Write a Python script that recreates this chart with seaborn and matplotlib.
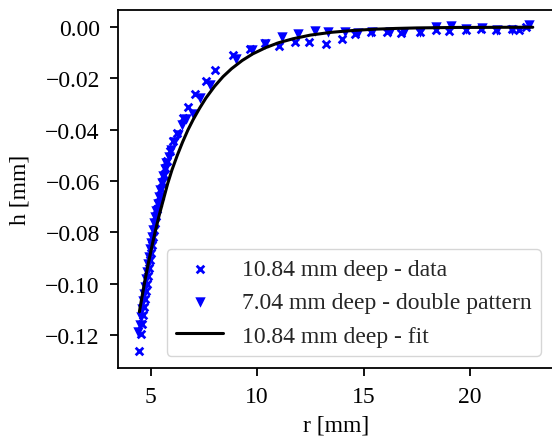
import matplotlib
matplotlib.use("Agg")
import matplotlib.pyplot as plt
import seaborn as sns

# 10.84 mm deep groove - measured profile
r_data = [4.45, 4.55, 4.59, 4.64, 4.69, 4.73, 4.78, 4.83, 4.87, 4.92, 4.97, 5.01, 5.06,
          5.11, 5.16, 5.20, 5.25, 5.30, 5.34, 5.44, 5.48, 5.53, 5.62, 5.67, 5.76, 5.90,
          6.05, 6.23, 6.50, 6.76, 7.08, 7.59, 8.02, 8.87, 9.66, 10.36, 11.01, 11.77,
          12.42, 13.22, 13.97, 14.62, 15.37, 16.08, 16.78, 17.63, 18.42, 19.03, 19.83,
          20.53, 21.24, 21.99, 22.30, 22.64]
h_data = [-0.1261, -0.1195, -0.1156, -0.1121, -0.1090, -0.1060, -0.1029, -0.1002, -0.0971,
          -0.0940, -0.0909, -0.0882, -0.0851, -0.0819, -0.0792, -0.0765, -0.0738, -0.0711,
          -0.0684, -0.0657, -0.0630, -0.0603, -0.0576, -0.0549, -0.0522, -0.0483, -0.0444,
          -0.0413, -0.0355, -0.0310, -0.0262, -0.0211, -0.0168, -0.0110, -0.0084, -0.0061,
          -0.0072, -0.0057, -0.0057, -0.0065, -0.0045, -0.0026, -0.0018, -0.0018, -0.0022,
          -0.0018, -0.0010, -0.0014, -0.0010, -0.0007, -0.0010, -0.0007, -0.0012, 0.0001]

# 7.04 mm deep groove - double pattern
r_double = [4.42, 4.50, 4.55, 4.59, 4.64, 4.69, 4.73, 4.78, 4.83, 4.87, 4.92, 4.97, 5.01,
            5.06, 5.11, 5.16, 5.20, 5.25, 5.34, 5.39, 5.44, 5.53, 5.58, 5.67, 5.72, 5.86,
            5.95, 6.09, 6.28, 6.47, 6.66, 6.97, 7.34, 7.81, 9.03, 9.74, 10.36, 11.16,
            11.91, 12.70, 13.31, 14.11, 14.72, 15.42, 16.22, 16.92, 17.63, 18.42, 19.13,
            19.83, 20.58, 21.29, 21.99, 22.79]
h_double = [-0.1190, -0.1160, -0.1129, -0.1098, -0.1067, -0.1040, -0.1013, -0.0982, -0.0955,
            -0.0924, -0.0897, -0.0866, -0.0843, -0.0820, -0.0792, -0.0765, -0.0742, -0.0715,
            -0.0688, -0.0661, -0.0634, -0.0607, -0.0580, -0.0553, -0.0529, -0.0506, -0.0479,
            -0.0448, -0.0420, -0.0383, -0.0359, -0.0340, -0.0275, -0.0226, -0.0123, -0.0091,
            -0.0065, -0.0038, -0.0026, -0.0014, -0.0018, -0.0018, -0.0022, -0.0018, -0.0018,
            -0.0018, -0.0018, 0.0001, 0.0005, -0.0007, -0.0003, -0.0010, -0.0010, 0.0009]

# fitted profile of the 10.84 mm deep groove
r_fit = [4.47, 4.60, 4.75, 4.90, 5.05, 5.20, 5.40, 5.60, 5.80, 6.00, 6.25, 6.50, 6.75,
         7.00, 7.30, 7.60, 8.00, 8.40, 8.80, 9.30, 9.80, 10.40, 11.00, 11.70, 12.50,
         13.50, 14.50, 15.50, 16.50, 17.50, 18.50, 19.50, 20.50, 21.50, 22.95]
h_fit = [-0.1110, -0.1048, -0.0980, -0.0917, -0.0858, -0.0802, -0.0734, -0.0672, -0.0610,
         -0.0557, -0.0500, -0.0448, -0.0401, -0.0360, -0.0316, -0.0276, -0.0231, -0.0193,
         -0.0162, -0.0130, -0.0104, -0.0080, -0.0061, -0.0045, -0.0031, -0.0020, -0.0013,
         -0.0008, -0.0005, -0.0003, -0.0002, -0.0001, -0.0001, -0.00005, -0.00003]

labels = ["10.84 mm deep - data", "7.04 mm deep - double pattern", "10.84 mm deep - fit"]

sns.set_style("ticks")
plt.rcParams["font.family"] = ["Liberation Serif", "DejaVu Serif"]
plt.rcParams["mathtext.fontset"] = "stix"
plt.rcParams["font.size"] = 17
plt.rcParams["axes.linewidth"] = 1.3
plt.rcParams["axes.edgecolor"] = "black"
plt.rcParams["axes.unicode_minus"] = True

fig = plt.figure(figsize=(5.52, 4.39), dpi=100)
ax = fig.add_axes([0.2143, 0.1595, 0.7875, 0.8155])

sns.scatterplot(x=r_data, y=h_data, marker="x", s=30, color="blue", linewidth=2.0,
                label=labels[0], ax=ax, zorder=2)
sns.scatterplot(x=r_double, y=h_double, marker="v", s=56, color="blue", linewidth=0,
                label=labels[1], ax=ax, zorder=2)
sns.lineplot(x=r_fit, y=h_fit, color="black", linewidth=2.2, label=labels[2], ax=ax,
             sort=False, zorder=3)

ax.set_xlim(3.48, 23.9)
ax.set_ylim(-0.1329, 0.0067)
ax.set_xticks([5, 10, 15, 20])
ax.set_yticks([0.0, -0.02, -0.04, -0.06, -0.08, -0.10, -0.12])
ax.yaxis.set_major_formatter(matplotlib.ticker.FuncFormatter(
    lambda v, pos: f"{v:.2f}".replace("-", "\u2212")))
ax.tick_params(axis="both", direction="out", length=5.8, width=1.3, labelsize=17,
               color="black", labelcolor="black", pad=7.5)
ax.set_xlabel("r [mm]", fontsize=17, color="black", labelpad=5)
ax.set_ylabel("h [mm]", fontsize=17, color="black", labelpad=11)

leg = ax.legend(loc="lower right", fontsize=17, frameon=True, framealpha=0.8,
                edgecolor="0.8", fancybox=True)

fig.savefig("out.png", dpi=100)
